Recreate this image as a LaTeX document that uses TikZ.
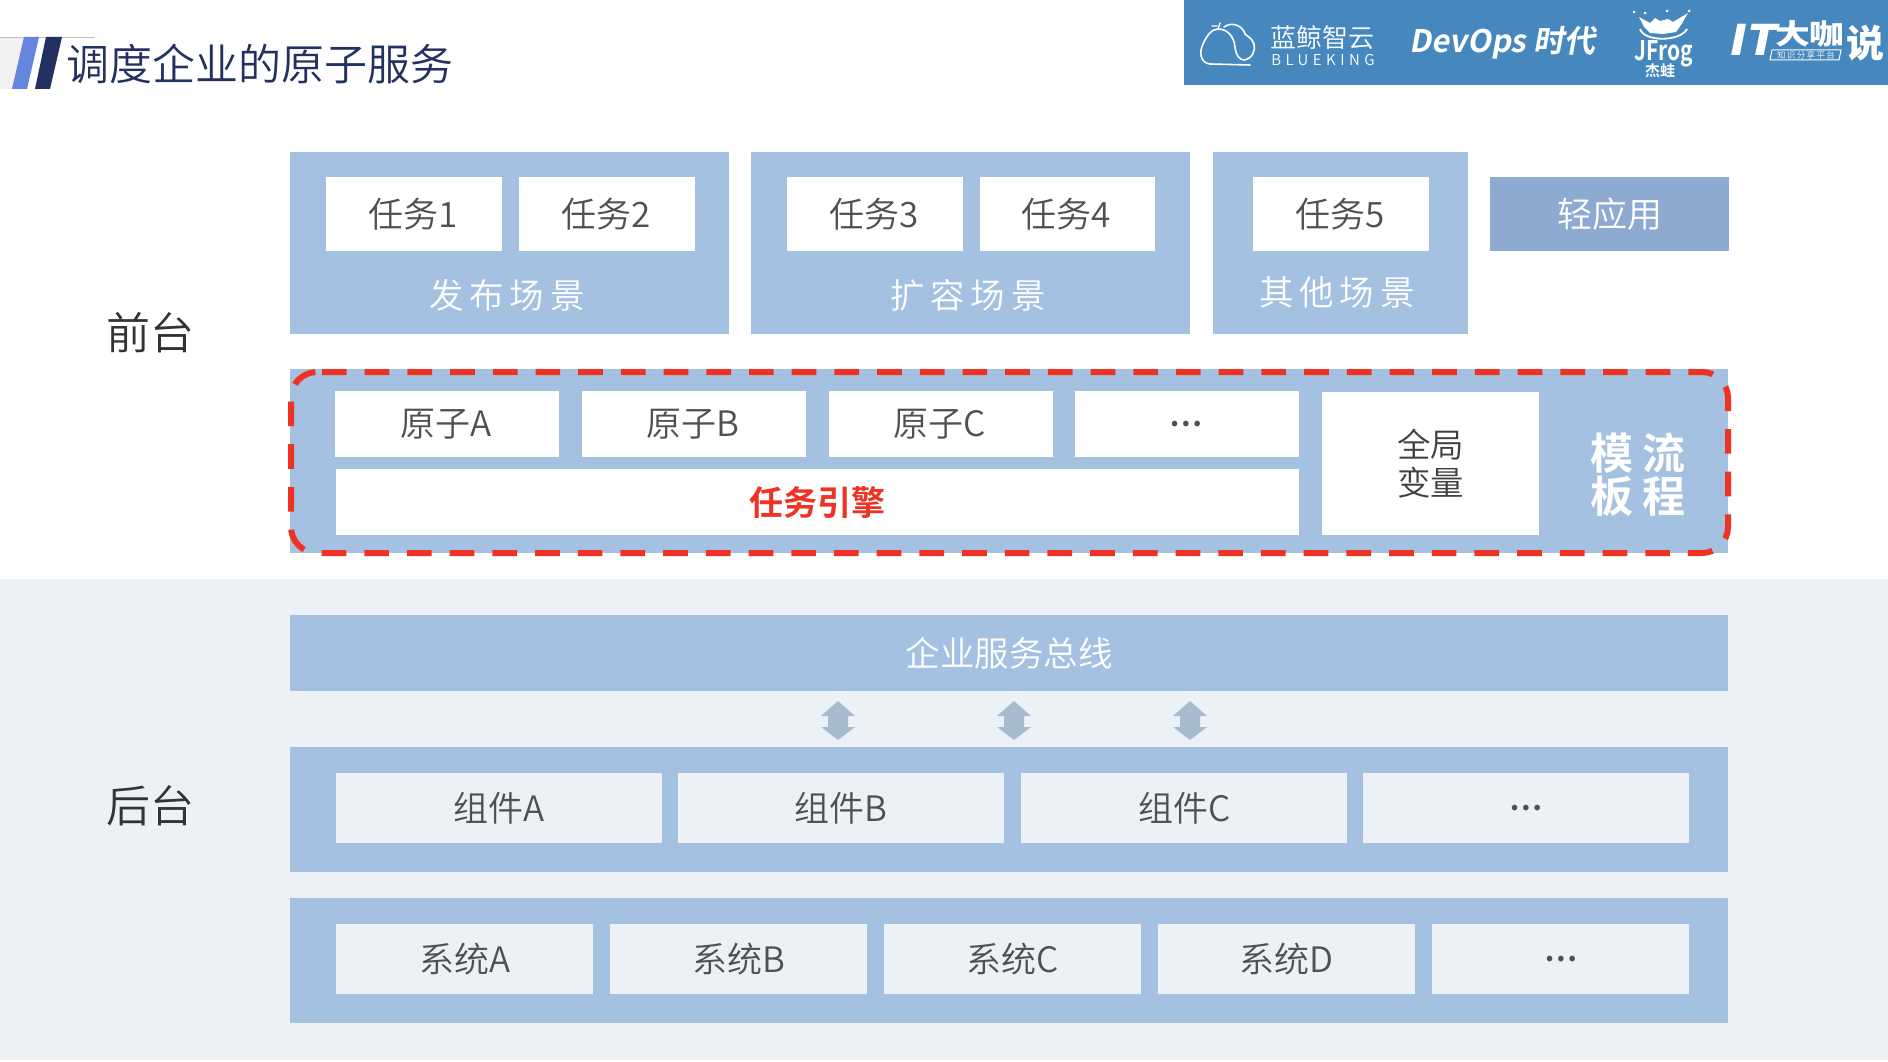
\documentclass[tikz,border=0pt]{standalone}
\usepackage{fontspec}
\setmainfont{Noto Sans CJK SC}[UprightFont=* DemiLight,BoldFont=* Bold]
\newfontfamily\boldcjk{Noto Sans CJK SC Bold}
\newfontfamily\blackcjk{Noto Sans CJK SC Black}
\definecolor{panel}{HTML}{A5C1E2}
\definecolor{backbg}{HTML}{ECF1F6}
\definecolor{appbox}{HTML}{8FAAD0}
\definecolor{logobg}{HTML}{4688BD}
\definecolor{navy}{HTML}{22315F}
\definecolor{slant}{HTML}{6585DE}
\definecolor{inktext}{HTML}{505050}
\definecolor{redline}{HTML}{EE3324}
\definecolor{arrowc}{HTML}{A7BBD0}
\tikzset{
 panelbox/.style={fill=panel,draw=none},
 whitebox/.style={fill=white,draw=none,text=inktext,font=\fontsize{35}{40}\selectfont,align=center,inner sep=0pt},
 backbox/.style={fill=backbg,draw=none,text=inktext,font=\fontsize{35}{40}\selectfont,inner sep=0pt},
 captext/.style={text=white,font=\fontsize{34.5}{40}\selectfont,inner sep=0pt},
 sidelabel/.style={text=black!80,font=\fontsize{44}{48}\selectfont,inner sep=0pt},
 logotext/.style={text=white,inner sep=0pt},
}
\newcommand{\dotsym}{{\boldcjk\fontsize{30}{34}\selectfont …}}
\newcommand{\bx}[6][whitebox]{\node[#1,minimum width=#4pt-#2pt,minimum height=#5pt-#3pt,anchor=north west] at (#2,#3) {#6\hspace{3pt}};}
\newcommand{\pn}[5]{\node[panelbox,minimum width=#3pt-#1pt,minimum height=#4pt-#2pt,anchor=north west,inner sep=0pt] (#5) at (#1,#2) {};}
\begin{document}
\begin{tikzpicture}[x=1pt,y=-1pt]
\useasboundingbox (0,0) rectangle (1888,1062);
\fill[white] (0,0) rectangle (1888,1062);
\fill[backbg] (0,579) rectangle (1888,1060);
% title
\fill[black!5] (0,37) rectangle (28,89);
\draw[black!25,line width=.6pt] (0,37) -- (95,37);
\fill[slant] (24,37) -- (39,37) -- (27,89) -- (12,89) -- cycle;
\fill[navy] (46,37) -- (62,37) -- (50,89) -- (35,89) -- cycle;
\node[text=navy,font=\fontsize{43}{50}\selectfont,anchor=west,inner sep=0pt] (title) at (66,64) {调度企业的原子服务};
% logo band
\fill[logobg] (1184,0) rectangle (1888,85);
% BlueKing cloud
\draw[white,line width=1.6pt,line cap=round] (1250,65) -- (1210,64) .. controls (1200,63) and (1199,52) .. (1203,44) .. controls (1207,35) and (1212,29) .. (1218,29) .. controls (1228,29) and (1234,37) .. (1235,47) .. controls (1236,56) and (1240,60) .. (1244,60) .. controls (1252,59) and (1256,50) .. (1254,44) .. controls (1252,38) and (1247,36) .. (1245,34) .. controls (1243,26) and (1232,21) .. (1224,27);
\draw[white,line width=1.4pt,line cap=round] (1218,29) -- (1220,23) (1212,26) -- (1217,26);
\node[logotext,font=\fontsize{26}{28}\selectfont] (lg1) at (1322,38) {蓝鲸智云};
\node[logotext,font=\fontsize{15}{17}\selectfont\addfontfeature{LetterSpace=30}] (lg2) at (1323,60.5) {BLUEKING};
\node[logotext,font=\boldcjk\fontsize{31}{34}\selectfont,xslant=.18] (lg3) at (1504,43) {DevOps 时代};
% JFrog splash
\fill[white] (1639,17) -- (1650,23) -- (1655,18) -- (1660,21) -- (1668,19) -- (1673,22) -- (1688,13) -- (1681,25) -- (1676,32) -- (1663,34) -- (1650,33) -- (1644,27) -- cycle;
\foreach \dx/\dy in {1634/12,1645/13,1667/11,1689/11}{\fill[white] (\dx,\dy) circle (1.5pt);}
\draw[white,line width=1.8pt] (1640,29) .. controls (1644,42) and (1680,42) .. (1687,29);
\node[logotext,font=\boldcjk\fontsize{27}{28}\selectfont,xscale=.78] (lg4) at (1664,54) {JFrog};
\node[logotext,font=\boldcjk\fontsize{15}{16}\selectfont] (lg5) at (1660,71) {杰蛙};
% IT talk
\node[logotext,font=\blackcjk\fontsize{42}{44}\selectfont,xslant=.2,xscale=1.15,anchor=west] (lg6) at (1730,40) {IT};
\node[logotext,font=\blackcjk\fontsize{28}{30}\selectfont,xscale=1.24,anchor=west] (lg7) at (1775,34) {大咖};
\node[logotext,font=\blackcjk\fontsize{38}{40}\selectfont,anchor=west] (lg9) at (1846,43) {说};
\draw[white,line width=1pt] (1772,50) -- (1841,50) -- (1839,60) -- (1770,60) -- cycle;
\node[logotext,font=\fontsize{8.5}{9}\selectfont\addfontfeature{LetterSpace=16}] (lg8) at (1806,55) {知识分享平台};
% labels
\node[sidelabel] (front) at (150,333) {前台};
\node[sidelabel] (back) at (150,806) {后台};
% scene panels
\pn{290}{152}{729}{334}{p1}
\pn{751}{152}{1190}{334}{p2}
\pn{1213}{152}{1468}{334}{p3}
\bx{326}{177}{502}{251}{任务1}
\bx{519}{177}{695}{251}{任务2}
\bx{787}{177}{963}{251}{任务3}
\bx{980}{177}{1155}{251}{任务4}
\bx{1253}{177}{1429}{251}{任务5}
\node[fill=appbox,draw=none,text=white,font=\fontsize{35}{40}\selectfont,inner sep=0pt,minimum width=239pt,minimum height=74pt,anchor=north west] (app) at (1490,177) {轻应用};
\node[captext] (c1) at (507,295) {发\,布\,场\,景};
\node[captext] (c2) at (968,295) {扩\,容\,场\,景};
\node[captext] (c3) at (1337,292) {其\,他\,场\,景};
% engine
\pn{290}{369}{1728}{553}{p4}
\bx{335}{391}{559}{457}{\raisebox{-1pt}{原子A}}
\bx{582}{391}{806}{457}{\raisebox{-1pt}{原子B}}
\bx{829}{391}{1053}{457}{\raisebox{-1pt}{原子C}}
\bx{1075}{391}{1299}{457}{\dotsym}
\node[whitebox,text=redline,font=\boldcjk\fontsize{34}{38}\selectfont,minimum width=963pt,minimum height=66pt,anchor=north west] (eng) at (336,469) {任务引擎};
\node[whitebox,text=black!75,font=\fontsize{33.5}{38.5}\selectfont,minimum width=217pt,minimum height=143pt,anchor=north west] (glob) at (1322,392) {全局\\变量};
\node[text=white,font=\boldcjk\fontsize{43}{43}\selectfont,align=center,inner sep=0pt] (tplb) at (1612,475) {模\\板};
\node[text=white,font=\boldcjk\fontsize{43}{43}\selectfont,align=center,inner sep=0pt] (tpla) at (1664,475) {流\\程};
\draw[redline,line width=6pt,rounded corners=26pt,dash pattern=on 24.7pt off 18pt] (322,372) -- (1728,372) -- (1728,553) -- (291,553) -- (291,372) -- (322,372);
% bus
\node[panelbox,text=white,font=\fontsize{34.5}{40}\selectfont,inner sep=0pt,minimum width=1438pt,minimum height=76pt,anchor=north west] (bus) at (290,615) {企业服务总线};
\pn{290}{747}{1728}{872}{p5}
\pn{290}{898}{1728}{1023}{p6}
\bx[backbox]{336}{773}{662}{843}{组件A}
\bx[backbox]{678}{773}{1004}{843}{组件B}
\bx[backbox]{1021}{773}{1347}{843}{组件C}
\bx[backbox]{1363}{773}{1689}{843}{\dotsym}
\bx[backbox]{336}{924}{593}{994}{系统A}
\bx[backbox]{610}{924}{867}{994}{系统B}
\bx[backbox]{884}{924}{1141}{994}{系统C}
\bx[backbox]{1158}{924}{1415}{994}{系统D}
\bx[backbox]{1432}{924}{1689}{994}{\dotsym}
\foreach \ax in {838,1014,1190}{
 \fill[arrowc] (\ax,701) -- (\ax+17,716) -- (\ax+10,716) -- (\ax+10,727) -- (\ax+17,727) -- (\ax,740) -- (\ax-17,727) -- (\ax-10,727) -- (\ax-10,716) -- (\ax-17,716) -- cycle;
}
\end{tikzpicture}
\end{document}
